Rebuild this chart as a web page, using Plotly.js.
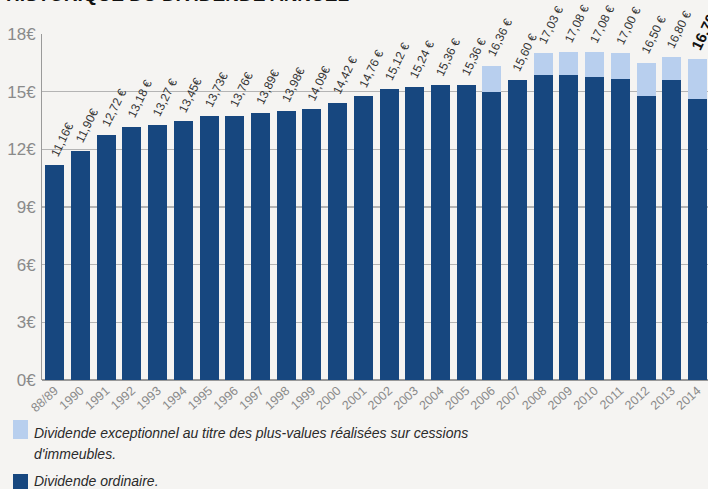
<!DOCTYPE html>
<html><head><meta charset="utf-8">
<script src="https://cdn.plot.ly/plotly-3.0.1.min.js"></script>
<style>html,body{margin:0;padding:0;background:#f5f4f2;}</style>
</head><body><div id="chart" style="width:708px;height:489px;"></div>
<script>
const years = ["88/89","1990","1991","1992","1993","1994","1995","1996","1997","1998","1999","2000","2001","2002","2003","2004","2005","2006","2007","2008","2009","2010","2011","2012","2013","2014"];
const ordinary = [11.16,11.90,12.72,13.18,13.27,13.45,13.73,13.76,13.89,13.98,14.09,14.42,14.76,15.12,15.24,15.36,15.36,15.00,15.60,15.87,15.87,15.76,15.66,14.78,15.61,14.62];
const totals = [11.16,11.90,12.72,13.18,13.27,13.45,13.73,13.76,13.89,13.98,14.09,14.42,14.76,15.12,15.24,15.36,15.36,16.36,15.60,17.03,17.08,17.08,17.00,16.50,16.80,16.70];
const labels = ["11,16€","11,90€","12,72 €","13,18 €","13,27 €","13,45€","13,73€","13,76€","13,89€","13,98€","14,09€","14,42 €","14,76 €","15,12 €","15,24 €","15,36 €","15,36 €","16,36 €","15,60 €","17,03 €","17,08 €","17,08 €","17,00 €","16,50 €","16,80 €","16,70 €"];
const exceptional = totals.map((t,i)=> Math.round((t - ordinary[i])*100)/100);
const yTicks = [0,3,6,9,12,15,18];
const yTickText = ["0€","3€","6€","9€","12€","15€","18€"];
const legendText = ["Dividende exceptionnel au titre des plus-values réalisées sur cessions","d'immeubles.","Dividende ordinaire."];

const DARK = "#17477f", LIGHT = "#b8cfee";
const narrow = "Liberation Sans Narrow, Arial Narrow, Liberation Sans, sans-serif";

const traces = [
  {type:"bar", x:years, y:ordinary, marker:{color:DARK}, name:"Dividende ordinaire.", showlegend:false, hoverinfo:"skip"},
  {type:"bar", x:years, y:exceptional, marker:{color:LIGHT}, name:"Dividende exceptionnel", showlegend:false, hoverinfo:"skip"}
];

const L = 42, T = 34, B = 380, R = 708;
const pw = R - L, ph = B - T;
const px = v => (v - L)/pw, py = v => (B - v)/ph;

const annotations = labels.map((t,i)=>({
  x: i, y: totals[i], xref:"x", yref:"y", text: t, showarrow:false,
  textangle:-64, xanchor:"left", yanchor:"bottom", xshift: i === labels.length-1 ? -12 : -10, yshift:4,
  font: i === labels.length-1 ? {family:narrow, size:15, color:"#111", weight:"bold"} : {family:narrow, size:12, color:"#333"}
}));
annotations.push({x:px(4), y:py(7), xref:"paper", yref:"paper", text:"<b>HISTORIQUE DU DIVIDENDE ANNUEL</b>", showarrow:false, xanchor:"left", yanchor:"bottom", font:{family:"Liberation Sans, Arial, sans-serif", size:19, color:"#111"}});
const legY = [433, 454, 481];
legendText.forEach((t,i)=>annotations.push({x:px(32), y:py(legY[i]), xref:"paper", yref:"paper", text:"<i>"+t+"</i>", showarrow:false, xanchor:"left", yanchor:"middle", font:{family:narrow, size:14, color:"#2a2a2a"}}));

const shapes = [
  {type:"rect", xref:"paper", yref:"paper", x0:px(13), x1:px(28), y0:py(420), y1:py(439), fillcolor:LIGHT, line:{width:0}},
  {type:"rect", xref:"paper", yref:"paper", x0:px(13), x1:px(28), y0:py(474), y1:py(495), fillcolor:DARK, line:{width:0}}
];

const layout = {
  width:708, height:489,
  margin:{l:L, r:0, t:T, b:489-B, pad:0},
  paper_bgcolor:"#f5f4f2", plot_bgcolor:"rgba(0,0,0,0)",
  barmode:"stack", bargap:0.26,
  xaxis:{type:"category", range:[-0.5, 25.41], tickangle:-42, tickfont:{family:narrow, size:12.5, color:"#8a8a8a"}, showgrid:false, showline:false, ticks:"", zeroline:false, fixedrange:true},
  yaxis:{range:[0,18], tickvals:yTicks, ticktext:yTickText, tickfont:{family:narrow, size:17, color:"#8a8a8a"}, showgrid:true, gridcolor:"#b4b4b4", gridwidth:1.5, showline:true, linecolor:"#9a9a9a", linewidth:1, zeroline:true, zerolinecolor:"#999", zerolinewidth:2, ticks:"", ticklabelstandoff:2, fixedrange:true},
  annotations: annotations, shapes: shapes,
  showlegend:false
};
Plotly.newPlot("chart", traces, layout, {displayModeBar:false, staticPlot:true});
</script></body></html>
